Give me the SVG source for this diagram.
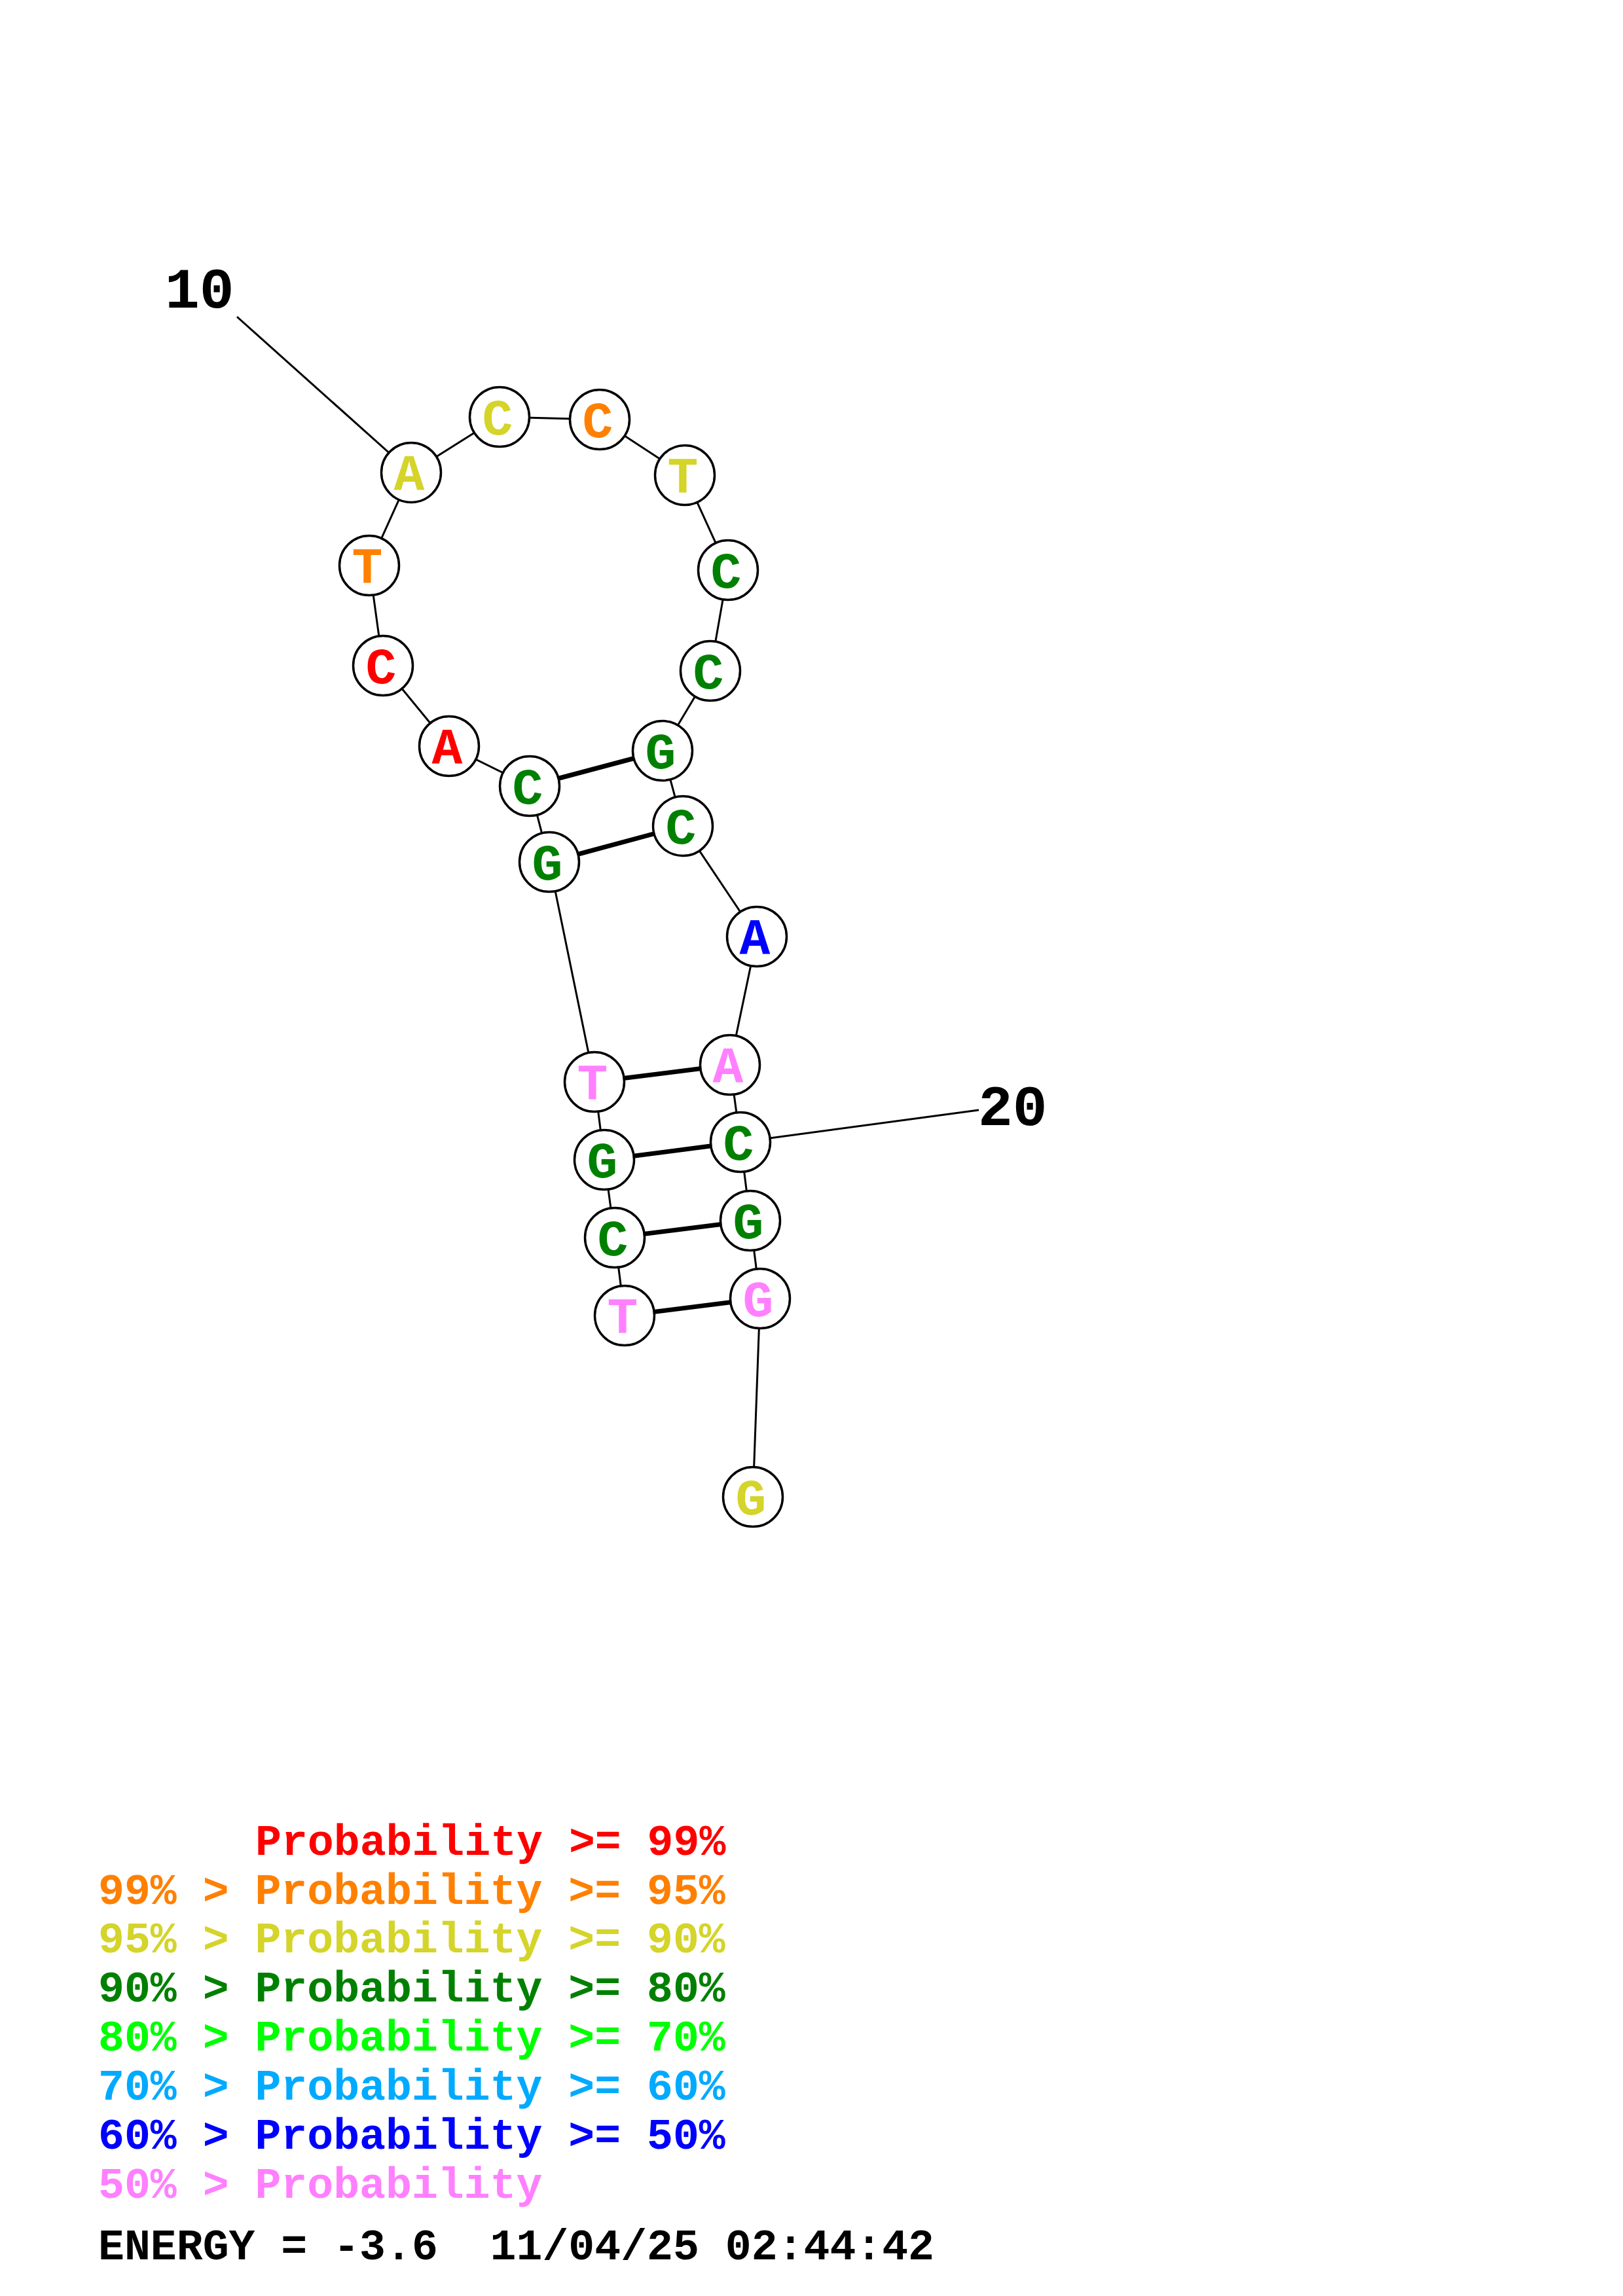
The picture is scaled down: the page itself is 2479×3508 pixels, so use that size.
<svg xmlns="http://www.w3.org/2000/svg" width="2479" height="3508" viewBox="0 0 2479 3508">
<style>
.bg{fill:#ffffff}
.bb{stroke:#000;stroke-width:3;fill:none}
.bp{stroke:#000;stroke-width:7;fill:none}
.nd{fill:#fff;stroke:#000;stroke-width:3.5}
.nt{font-family:"Liberation Mono","Courier New",monospace;font-weight:bold;font-size:78px;text-anchor:middle}
.lbl{font-family:"Liberation Mono","Courier New",monospace;font-weight:bold;font-size:88px;fill:#000}
.lg{font-family:"Liberation Mono","Courier New",monospace;font-weight:bold;font-size:66.5px}
.red{fill:#FF0000}.org{fill:#FF8000}.yel{fill:#D4D42A}.grn{fill:#008000}
.lgr{fill:#00FF00}.lbu{fill:#00AAFF}.blu{fill:#0000FF}.pnk{fill:#FF80FF}.blk{fill:#000}
</style>
<rect class="bg" x="0" y="0" width="2479" height="3508"/>
<g id="connectors">
<line class="bb" x1="362" y1="484" x2="628" y2="722"/>
<line class="bb" x1="1131" y1="1745" x2="1495" y2="1696"/>
<polyline class="bb" points="954,2010 939,1891 923,1772 908,1653 839,1317 809,1201 686,1140 585,1017 564,864 628,722 763,637 916,641 1046,726 1112,871 1085,1025 1012,1147 1043,1262 1156,1431 1115,1627 1131,1745 1146,1865 1161,1984 1150,2287"/>
<line class="bp" x1="954" y1="2010" x2="1161" y2="1984"/>
<line class="bp" x1="939" y1="1891" x2="1146" y2="1865"/>
<line class="bp" x1="923" y1="1772" x2="1131" y2="1745"/>
<line class="bp" x1="908" y1="1653" x2="1115" y2="1627"/>
<line class="bp" x1="839" y1="1317" x2="1043" y2="1262"/>
<line class="bp" x1="809" y1="1201" x2="1012" y2="1147"/>
</g>
<g id="n1"><circle class="nd" cx="954" cy="2010" r="45.5"/><text class="nt pnk" x="951" y="2037">T</text></g>
<g id="n2"><circle class="nd" cx="939" cy="1891" r="45.5"/><text class="nt grn" x="936" y="1918">C</text></g>
<g id="n3"><circle class="nd" cx="923" cy="1772" r="45.5"/><text class="nt grn" x="920" y="1799">G</text></g>
<g id="n4"><circle class="nd" cx="908" cy="1653" r="45.5"/><text class="nt pnk" x="905" y="1680">T</text></g>
<g id="n5"><circle class="nd" cx="839" cy="1317" r="45.5"/><text class="nt grn" x="836" y="1344">G</text></g>
<g id="n6"><circle class="nd" cx="809" cy="1201" r="45.5"/><text class="nt grn" x="806" y="1228">C</text></g>
<g id="n7"><circle class="nd" cx="686" cy="1140" r="45.5"/><text class="nt red" x="683" y="1167">A</text></g>
<g id="n8"><circle class="nd" cx="585" cy="1017" r="45.5"/><text class="nt red" x="582" y="1044">C</text></g>
<g id="n9"><circle class="nd" cx="564" cy="864" r="45.5"/><text class="nt org" x="561" y="891">T</text></g>
<g id="n10"><circle class="nd" cx="628" cy="722" r="45.5"/><text class="nt yel" x="625" y="749">A</text></g>
<g id="n11"><circle class="nd" cx="763" cy="637" r="45.5"/><text class="nt yel" x="760" y="664">C</text></g>
<g id="n12"><circle class="nd" cx="916" cy="641" r="45.5"/><text class="nt org" x="913" y="668">C</text></g>
<g id="n13"><circle class="nd" cx="1046" cy="726" r="45.5"/><text class="nt yel" x="1043" y="753">T</text></g>
<g id="n14"><circle class="nd" cx="1112" cy="871" r="45.5"/><text class="nt grn" x="1109" y="898">C</text></g>
<g id="n15"><circle class="nd" cx="1085" cy="1025" r="45.5"/><text class="nt grn" x="1082" y="1052">C</text></g>
<g id="n16"><circle class="nd" cx="1012" cy="1147" r="45.5"/><text class="nt grn" x="1009" y="1174">G</text></g>
<g id="n17"><circle class="nd" cx="1043" cy="1262" r="45.5"/><text class="nt grn" x="1040" y="1289">C</text></g>
<g id="n18"><circle class="nd" cx="1156" cy="1431" r="45.5"/><text class="nt blu" x="1153" y="1458">A</text></g>
<g id="n19"><circle class="nd" cx="1115" cy="1627" r="45.5"/><text class="nt pnk" x="1112" y="1654">A</text></g>
<g id="n20"><circle class="nd" cx="1131" cy="1745" r="45.5"/><text class="nt grn" x="1128" y="1772">C</text></g>
<g id="n21"><circle class="nd" cx="1146" cy="1865" r="45.5"/><text class="nt grn" x="1143" y="1892">G</text></g>
<g id="n22"><circle class="nd" cx="1161" cy="1984" r="45.5"/><text class="nt pnk" x="1158" y="2011">G</text></g>
<g id="n23"><circle class="nd" cx="1150" cy="2287" r="45.5"/><text class="nt yel" x="1147" y="2314">G</text></g>
<g id="labels">
<text class="lbl" x="252" y="470">10</text>
<text class="lbl" x="1494" y="1719">20</text>
</g>
<g id="legend">
<text class="lg red" x="390" y="2834">Probability &gt;= 99%</text>
<text class="lg org" x="150" y="2909">99% &gt; Probability &gt;= 95%</text>
<text class="lg yel" x="150" y="2983">95% &gt; Probability &gt;= 90%</text>
<text class="lg grn" x="150" y="3058">90% &gt; Probability &gt;= 80%</text>
<text class="lg lgr" x="150" y="3133">80% &gt; Probability &gt;= 70%</text>
<text class="lg lbu" x="150" y="3208">70% &gt; Probability &gt;= 60%</text>
<text class="lg blu" x="150" y="3283">60% &gt; Probability &gt;= 50%</text>
<text class="lg pnk" x="150" y="3358">50% &gt; Probability</text>
<text class="lg blk" x="150" y="3452" xml:space="preserve">ENERGY = -3.6  11/04/25 02:44:42</text>
</g>
</svg>
